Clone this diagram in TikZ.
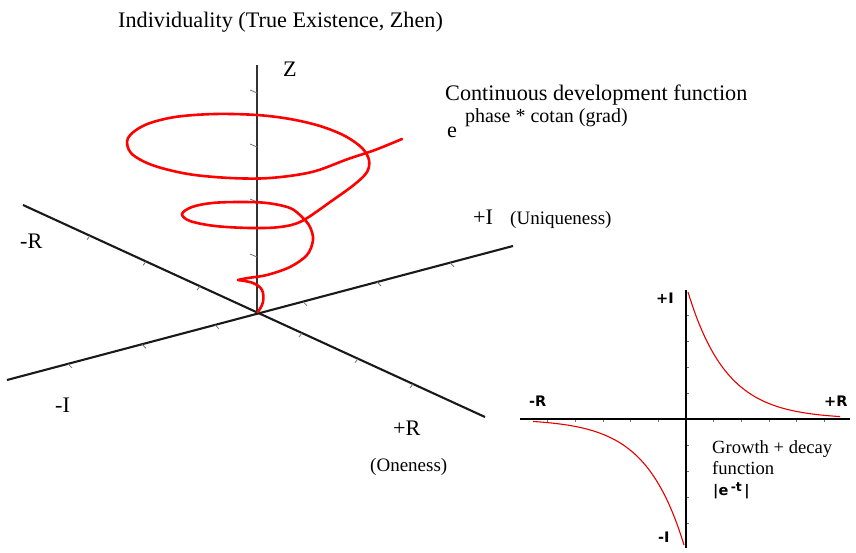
\documentclass[tikz,border=0pt]{standalone}
\usepackage{fontspec}
\setmainfont{Liberation Serif}
\newfontfamily\chartfont{DejaVu Sans}
\usepackage{tikz}
\usetikzlibrary{calc}
\newcommand{\mainsize}{\fontsize{22.2}{25}\selectfont}
\newcommand{\notesize}{\fontsize{19}{22}\selectfont}
\newcommand{\chartsize}{\chartfont\bfseries\fontsize{14.5}{17}\selectfont}
\tikzstyle{axis3d} = [line width=2.1pt, black!90]
\tikzstyle{axis2d} = [line width=1.8pt, black]
\tikzstyle{tickmark} = [line width=0.8pt, black!55]
\tikzstyle{spiral} = [line width=2.6pt, red, line cap=round, line join=round]
\tikzstyle{decay} = [line width=1.1pt, red!90!black]
\tikzstyle{lbl} = [anchor=base west, inner sep=0pt, font=\mainsize]
\tikzstyle{note} = [anchor=base west, inner sep=0pt, font=\notesize]
\tikzstyle{chartlbl} = [anchor=base west, inner sep=0pt, font=\chartsize]

\begin{document}
\begin{tikzpicture}[x=1pt, y=-1pt]
    \useasboundingbox (0,0) rectangle (856,553);

    % 3D axes
    \coordinate (origin) at (257,313);
    \coordinate (rneg) at (23,205);
    \coordinate (rpos) at (485,417);
    \coordinate (ineg) at (7,380);
    \coordinate (ipos) at (513,246);
    \coordinate (ztop) at (257,65);
    \draw[axis3d] (rneg) -- (rpos);
    \draw[axis3d] (ineg) -- (ipos);
    \draw[line width=1.2pt, black!80] (ztop) -- (origin);

    % ticks on the axes
    \foreach \x in {90,146,200,302,358,413}
        \draw[tickmark] ({\x},{205+0.4589*(\x-23)}) -- ++(-3,4);
    \foreach \x in {68,142,215,303,377,450}
        \draw[tickmark] ({\x},{380-0.2648*(\x-7)}) -- ++(4,4);
    \foreach \y in {92,146,201,256}
        \draw[tickmark] (250,\y-2) -- (257,\y+1);

    % growing spiral
    \draw[spiral] plot[smooth, tension=0.6] coordinates {
        (258,312) (263,302) (262,290) (253,283) (238,280)};
    \draw[spiral] plot[smooth, tension=0.55] coordinates {
        (238,280) (248,278) (267,275) (290,267) (307,255) (313,240)
        (310,227) (302,217) (290,208) (267,203) (240,202) (212,203)
        (192,207) (182,214) (190,221) (215,226) (250,228) (280,227)
        (302,221) (333,200) (355,184) (367,172) (369,160) (362,148)
        (345,136) (320,126) (290,119) (257,115) (215,114) (175,117)
        (145,125) (128,138) (131,153) (152,165) (188,174) (230,178)
        (270,178) (312,172) (348,159) (375,150) (402,139)};

    % labels of the 3D picture
    \node[lbl] (title) at (118,28) {Individuality (True Existence, Zhen)};
    \node[lbl] (zlbl) at (283,77) {Z};
    \node[lbl] (contfn) at (445,101) {Continuous development function};
    \node[lbl] (expfn) at (447,138) {e\hspace{8pt}\raisebox{15pt}{\fontsize{20}{22}\selectfont phase * cotan (grad)}};
    \node[lbl] (iplus) at (473,225) {+I};
    \node[note] (uniq) at (510,225) {(Uniqueness)};
    \node[lbl] (rminus) at (20,248) {-R};
    \node[lbl] (iminus) at (55,412) {-I};
    \node[lbl] (rplus) at (393,435) {+R};
    \node[note] (oneness) at (370,471) {(Oneness)};

    % 2D chart
    \coordinate (o2) at (686,419);
    \coordinate (hleft) at (520,419);
    \coordinate (hright) at (850,419);
    \coordinate (vtop) at (686,290);
    \coordinate (vbot) at (686,548);
    \foreach \k in {1,...,5} {
        \draw[tickmark] ({686-27.7*\k},419) -- ++(0,3);
        \draw[tickmark] ({686+27.7*\k},419) -- ++(0,3);
    }
    \foreach \k in {1,...,4} {
        \draw[tickmark] (686,{419-26*\k}) -- ++(3,0);
        \draw[tickmark] (686,{419+26*\k}) -- ++(3,0);
    }
    \draw[axis2d] (hleft) -- (hright);
    \draw[axis2d] (vtop) -- (vbot);
    \draw[decay] plot[domain=0:152, samples=80] ({688+\x},{419-127*exp(-0.026*\x)});
    \draw[decay] plot[domain=0:151, samples=80] ({684-\x},{419+126*exp(-0.026*\x)});

    \node[chartlbl] (c_iplus) at (656,303) {+I};
    \node[chartlbl] (c_rminus) at (529,406) {-R};
    \node[chartlbl] (c_rplus) at (824,406) {+R};
    \node[chartlbl] (c_iminus) at (658,542) {-I};
    \node[note, font=\fontsize{18.6}{21}\selectfont] (growth) at (712,453) {Growth + decay};
    \node[note, font=\fontsize{18.6}{21}\selectfont] (fnword) at (712,474) {function};
    \node[chartlbl] (abs) at (713,495) {|e\,\raisebox{4pt}{\fontsize{12.5}{13}\selectfont -t}\,|};
\end{tikzpicture}
\end{document}
